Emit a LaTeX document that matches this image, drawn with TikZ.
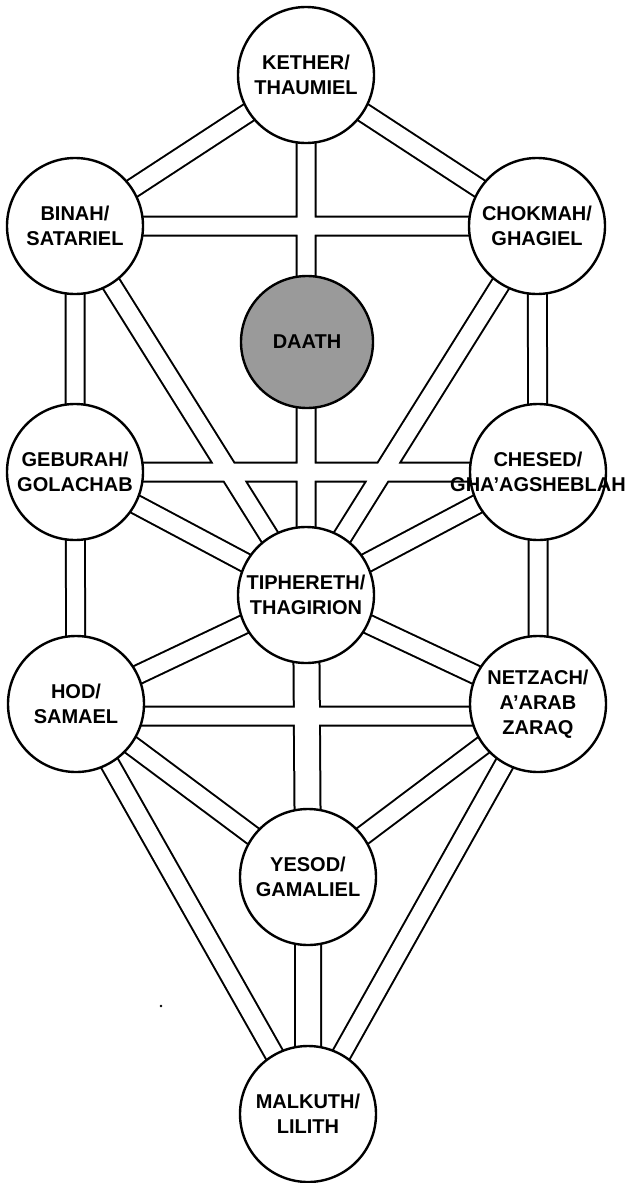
\documentclass[tikz,border=0pt]{standalone}
\usepackage{fontspec}
\setmainfont{Liberation Sans}
\usetikzlibrary{backgrounds}
\definecolor{DaathGrey}{HTML}{9A9A9A}
\tikzset{
    % Sephiroth - white circles, bold caps
    sephirah/.style={
        circle,
        draw=black,
        fill=white,
        line width=2.4pt,
        minimum size=136pt,
        inner sep=0pt,
        align=center,
        font=\bfseries\fontsize{20}{25}\selectfont
    },
    hiddenbox/.style={
        sephirah,
        fill=DaathGrey,
        minimum size=132pt
    },
    % Channels - black edge under, white inside over it
    channeledge/.style={
        line width=21pt,
        black
    },
    channelfill/.style={
        line width=17pt,
        white
    }
}
% the paths between the sephiroth
\newcommand{\narrowpaths}{
    (kether.center) -- (binah.center)
    (kether.center) -- (chokmah.center)
    (kether.center) -- (tiphereth.center)
    (binah.center) -- (chokmah.center)
    (binah.center) -- (geburah.center)
    (binah.center) -- (tiphereth.center)
    (chokmah.center) -- (chesed.center)
    (chokmah.center) -- (tiphereth.center)
    (geburah.center) -- (chesed.center)
    (geburah.center) -- (tiphereth.center)
    (chesed.center) -- (tiphereth.center)
    (geburah.center) -- (hod.center)
    (chesed.center) -- (netzach.center)
    (tiphereth.center) -- (hod.center)
    (tiphereth.center) -- (netzach.center)
    ([yshift=-12pt]hod.center) -- ([yshift=-12pt]netzach.center)
    (hod.center) -- (yesod.center)
    (netzach.center) -- (yesod.center)
    (hod.center) -- (malkuth.center)
    (netzach.center) -- (malkuth.center)
}
\newcommand{\widepaths}{
    (tiphereth.center) -- (yesod.center)
    (yesod.center) -- (malkuth.center)
}

\begin{document}
\begin{tikzpicture}[x=1pt, y=-1pt]
    \useasboundingbox (0,0) rectangle (632,1183);

    % Sephiroth
    \node[sephirah] (kether) at (306,75) {KETHER/\\THAUMIEL};
    \node[sephirah] (binah) at (75,226) {BINAH/\\SATARIEL};
    \node[sephirah] (chokmah) at (537,226) {CHOKMAH/\\GHAGIEL};
    \node[hiddenbox] (daath) at (307,342) {DAATH};
    \node[sephirah] (geburah) at (75,472) {GEBURAH/\\GOLACHAB};
    % long name runs over the circle
    \node[sephirah] (chesed) at (538,472) {CHESED/\\\makebox[0pt]{GHA’AGSHEBLAH}};
    \node[sephirah] (tiphereth) at (306,595) {TIPHERETH/\\THAGIRION};
    \node[sephirah] (hod) at (76,704) {HOD/\\SAMAEL};
    \node[sephirah] (netzach) at (538,704) {NETZACH/\\A’ARAB\\ZARAQ};
    \node[sephirah] (yesod) at (308,877) {YESOD/\\GAMALIEL};
    \node[sephirah] (malkuth) at (308,1114) {MALKUTH/\\LILITH};

    % Channels, all edges first so the crossings stay open
    \begin{scope}[on background layer]
        \draw[channeledge] \narrowpaths;
        \draw[channeledge, line width=28pt] \widepaths;
        \draw[channelfill] \narrowpaths;
        \draw[channelfill, line width=24pt] \widepaths;
    \end{scope}

    \fill (161,1006) circle (1.3pt);
\end{tikzpicture}
\end{document}
